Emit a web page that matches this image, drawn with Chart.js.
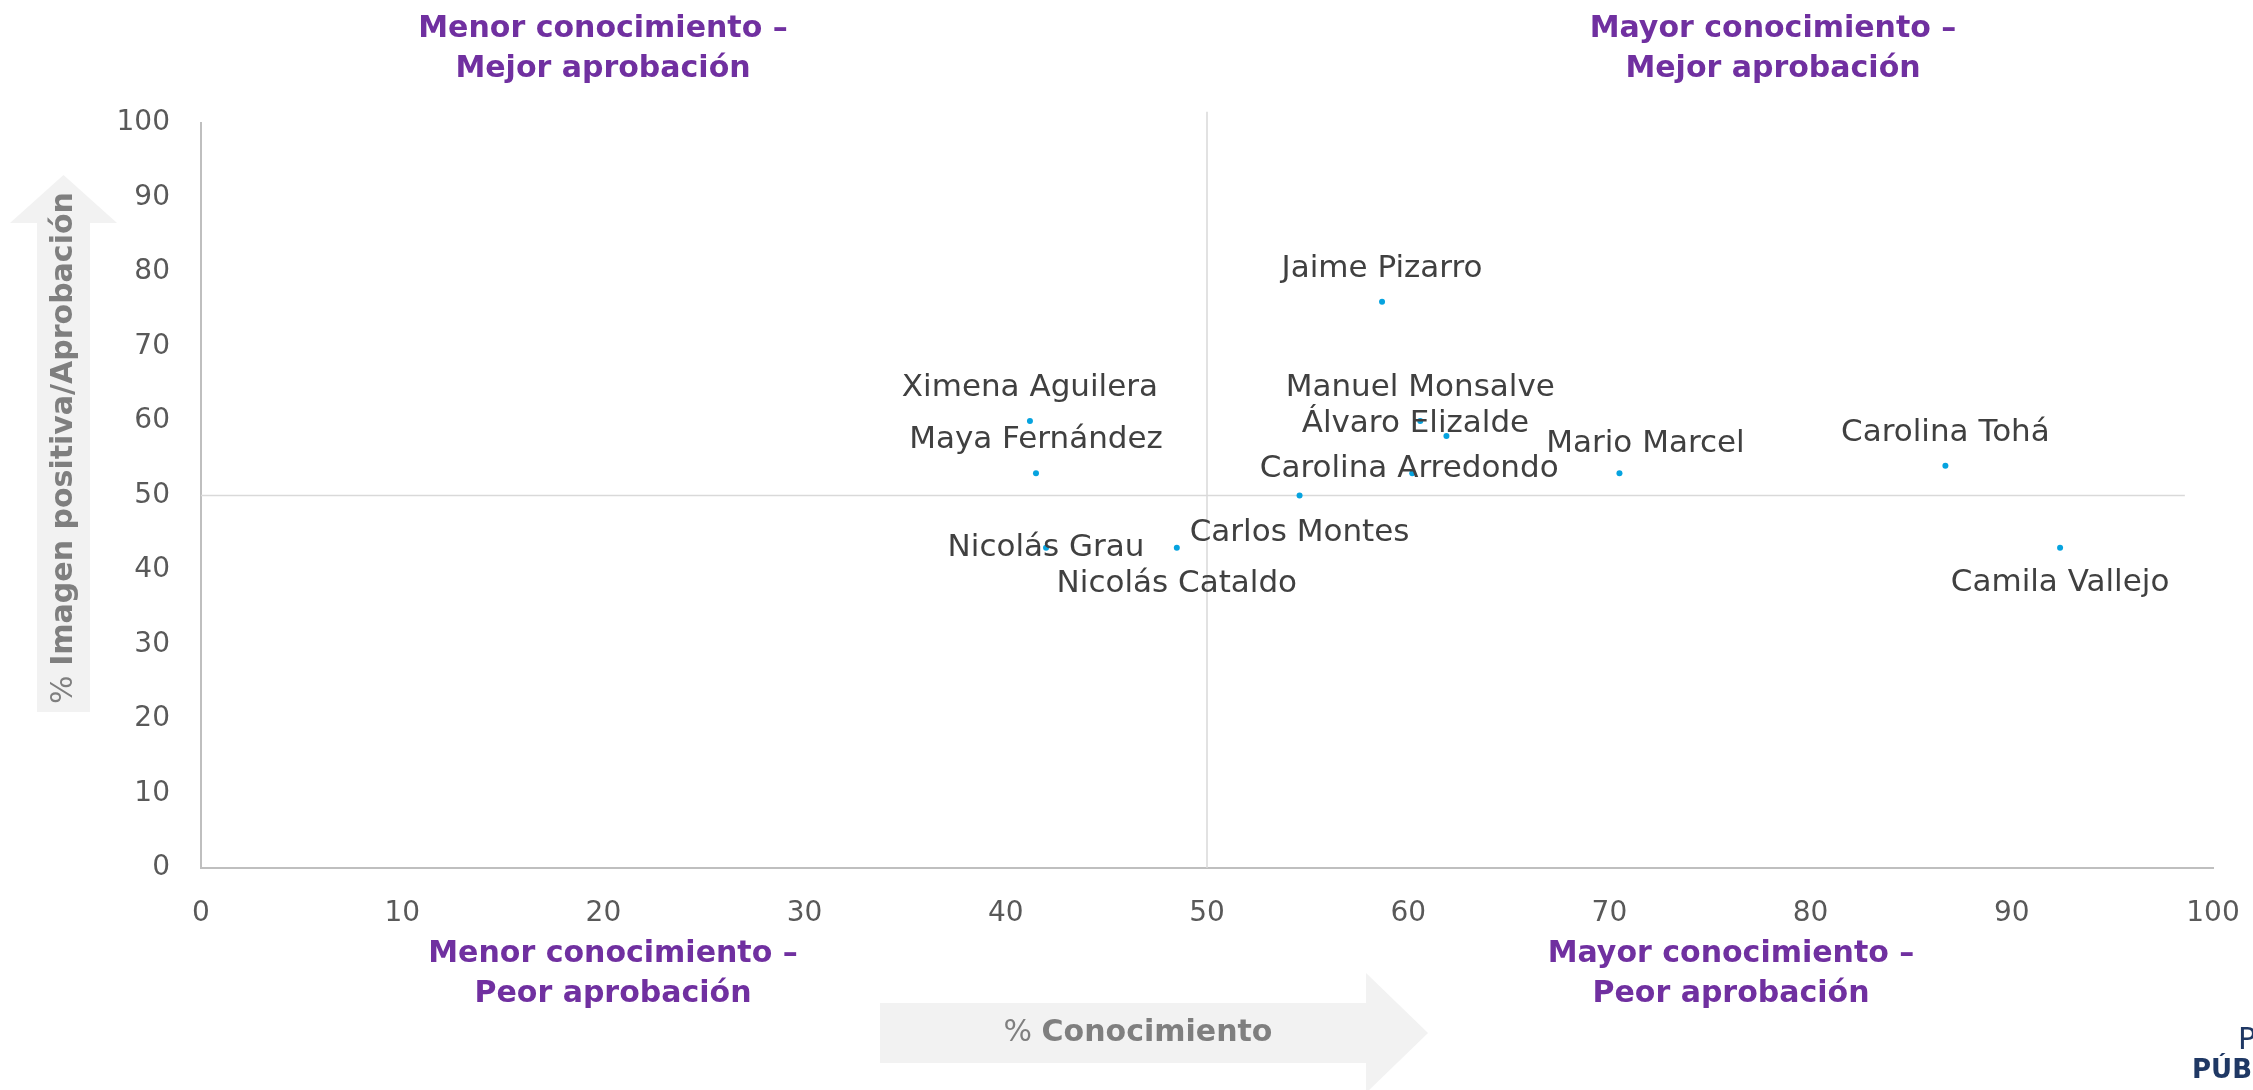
<!DOCTYPE html>
<html lang="es">
<head>
<meta charset="utf-8">
<title>Conocimiento vs aprobación</title>
<script src="https://cdn.jsdelivr.net/npm/chart.js@4.4.1/dist/chart.umd.min.js"></script>
<style>
  html, body { margin: 0; padding: 0; background: #fff; }
  #wrap { width: 2253px; height: 1090px; }
</style>
</head>
<body>
<div id="wrap"><canvas id="mapa" width="2253" height="1090"></canvas></div>
<script>
// ── Datos ───────────────────────────────────────────────────────────────
const names = ['Jaime Pizarro', 'Ximena Aguilera', 'Maya Fernández', 'Manuel Monsalve', 'Álvaro Elizalde', 'Carolina Arredondo',
  'Mario Marcel', 'Carolina Tohá', 'Carlos Montes', 'Nicolás Grau', 'Nicolás Cataldo', 'Camila Vallejo']
const conocimiento = [58.7, 41.2, 41.5, 60.6, 61.9, 60.2, 70.5, 86.7, 54.6, 42.0, 48.5, 92.4]
const aprobacion = [76, 60, 53, 60, 58, 53, 53, 54, 50, 43, 43, 43]
const axisTicks = [0, 10, 20, 30, 40, 50, 60, 70, 80, 90, 100]

// líneas de corte en 50 / 50
const corte = 50
const corteVerticalY = [0, 101.5]
const corteHorizontalX = [0, 98.6]

const quadrants = [
  ['Menor conocimiento –', 'Mejor aprobación'],
  ['Mayor conocimiento –', 'Mejor aprobación'],
  ['Menor conocimiento –', 'Peor aprobación'],
  ['Mayor conocimiento –', 'Peor aprobación'],
]

// ── Estilo ──────────────────────────────────────────────────────────────
const FONT = "'DejaVu Sans', sans-serif"
const COLORS = {
  point: '#06a3df',
  label: '#404040',
  tick: '#595959',
  axis: '#bfbfbf',
  cross: '#d9d9d9',
  purple: '#7030a0',
  arrow: '#f2f2f2',
  arrowText: '#7f7f7f',
  logo: '#1f3864',
}
// desplazamiento de cada etiqueta respecto de su punto (px)
const LABEL_OFFSET = [[0, -33], [0, -33], [0, -33], [0, -33], [-31, -12], [-3, -4],
  [26, -29], [0, -33], [0, 37], [0, 0], [0, 36], [0, 35]]
const QUAD_POS = [[603, 29], [1773, 29], [613, 954], [1731, 954]]

function drawRuns(ctx, runs, cx, cy) {
  let total = 0
  runs.forEach(r => { ctx.font = r.font; r.w = ctx.measureText(r.text).width; total += r.w })
  let x = cx - total / 2
  ctx.textAlign = 'left'
  ctx.textBaseline = 'middle'
  runs.forEach(r => { ctx.font = r.font; ctx.fillText(r.text, x, cy); x += r.w })
}

const decorations = {
  id: 'decorations',
  beforeDraw(chart) {
    const ctx = chart.ctx
    ctx.save()
    ctx.fillStyle = '#fff'
    ctx.fillRect(0, 0, chart.width, chart.height)

    // flecha horizontal
    ctx.fillStyle = COLORS.arrow
    ctx.beginPath()
    ctx.moveTo(880, 1003); ctx.lineTo(1366, 1003); ctx.lineTo(1366, 973); ctx.lineTo(1428, 1033)
    ctx.lineTo(1366, 1093); ctx.lineTo(1366, 1063); ctx.lineTo(880, 1063); ctx.closePath()
    ctx.fill()
    // flecha vertical
    ctx.beginPath()
    ctx.moveTo(37, 712); ctx.lineTo(37, 223); ctx.lineTo(10, 223); ctx.lineTo(63.5, 175)
    ctx.lineTo(117, 223); ctx.lineTo(90, 223); ctx.lineTo(90, 712); ctx.closePath()
    ctx.fill()

    ctx.fillStyle = COLORS.arrowText
    drawRuns(ctx, [{ text: '% ', font: `30px ${FONT}` }, { text: 'Conocimiento', font: `bold 30px ${FONT}` }], 1138, 1033)
    ctx.save()
    ctx.translate(64, 448)
    ctx.rotate(-Math.PI / 2)
    drawRuns(ctx, [{ text: '% ', font: `30px ${FONT}` }, { text: 'Imagen positiva/Aprobación', font: `bold 30px ${FONT}` }], 0, 0)
    ctx.restore()

    // títulos de cuadrantes
    ctx.fillStyle = COLORS.purple
    ctx.font = `bold 30px ${FONT}`
    ctx.textAlign = 'center'
    ctx.textBaseline = 'middle'
    quadrants.forEach((lines, i) => {
      const [x, y] = QUAD_POS[i]
      lines.forEach((t, j) => ctx.fillText(t, x, y + j * 40))
    })

    // logo
    ctx.fillStyle = COLORS.logo
    ctx.textAlign = 'left'
    ctx.font = `30px ${FONT}`
    ctx.fillText('PLAZA', 2238, 1041)
    ctx.font = `bold 26px ${FONT}`
    ctx.fillText('PÚBLICA', 2192, 1071)
    ctx.restore()
  },
  afterDatasetsDraw(chart) {
    const ctx = chart.ctx
    const meta = chart.getDatasetMeta(0)
    ctx.save()
    ctx.fillStyle = COLORS.label
    ctx.font = `31px ${FONT}`
    ctx.textAlign = 'center'
    ctx.textBaseline = 'middle'
    meta.data.forEach((pt, i) => {
      const [dx, dy] = LABEL_OFFSET[i]
      ctx.fillText(names[i], pt.x + dx, pt.y + dy)
    })
    ctx.restore()
  },
}

const fixedTicks = scale => { scale.ticks = axisTicks.map(v => ({ value: v })) }
const noEdgePadding = s => { s.paddingLeft = 0; s.paddingRight = 0; s.paddingTop = 0; s.paddingBottom = 0 }

new Chart(document.getElementById('mapa'), {
  type: 'scatter',
  data: {
    datasets: [
      {
        label: 'Personeros',
        data: names.map((n, i) => ({ x: conocimiento[i], y: aprobacion[i] })),
        backgroundColor: COLORS.point,
        borderWidth: 0,
        pointRadius: 3,
      },
      {
        label: 'corte vertical',
        data: corteVerticalY.map(y => ({ x: corte, y })),
        showLine: true,
        borderColor: COLORS.cross,
        borderWidth: 1.5,
        pointRadius: 0,
        clip: false,
      },
      {
        label: 'corte horizontal',
        data: corteHorizontalX.map(x => ({ x, y: corte })),
        showLine: true,
        borderColor: COLORS.cross,
        borderWidth: 1.5,
        pointRadius: 0,
        clip: false,
      },
    ],
  },
  options: {
    responsive: false,
    animation: false,
    devicePixelRatio: 1,
    layout: { padding: { left: 0, right: 40, top: 123, bottom: 0 } },
    plugins: { legend: { display: false }, tooltip: { enabled: false } },
    scales: {
      x: {
        type: 'linear', min: 0, max: 100,
        afterBuildTicks: fixedTicks,
        afterFit: s => { s.height = 222; noEdgePadding(s) },
        grid: { display: false, drawTicks: false },
        border: { display: true, color: COLORS.axis, width: 2 },
        ticks: { color: COLORS.tick, font: { family: FONT, size: 28 }, padding: 29, maxRotation: 0 },
      },
      y: {
        type: 'linear', min: 0, max: 100,
        afterBuildTicks: fixedTicks,
        afterFit: s => { s.width = 201; noEdgePadding(s) },
        grid: { display: false, drawTicks: false },
        border: { display: true, color: COLORS.axis, width: 2 },
        ticks: { color: COLORS.tick, font: { family: FONT, size: 28 }, padding: 31 },
      },
    },
  },
  plugins: [decorations],
})
</script>
</body>
</html>
